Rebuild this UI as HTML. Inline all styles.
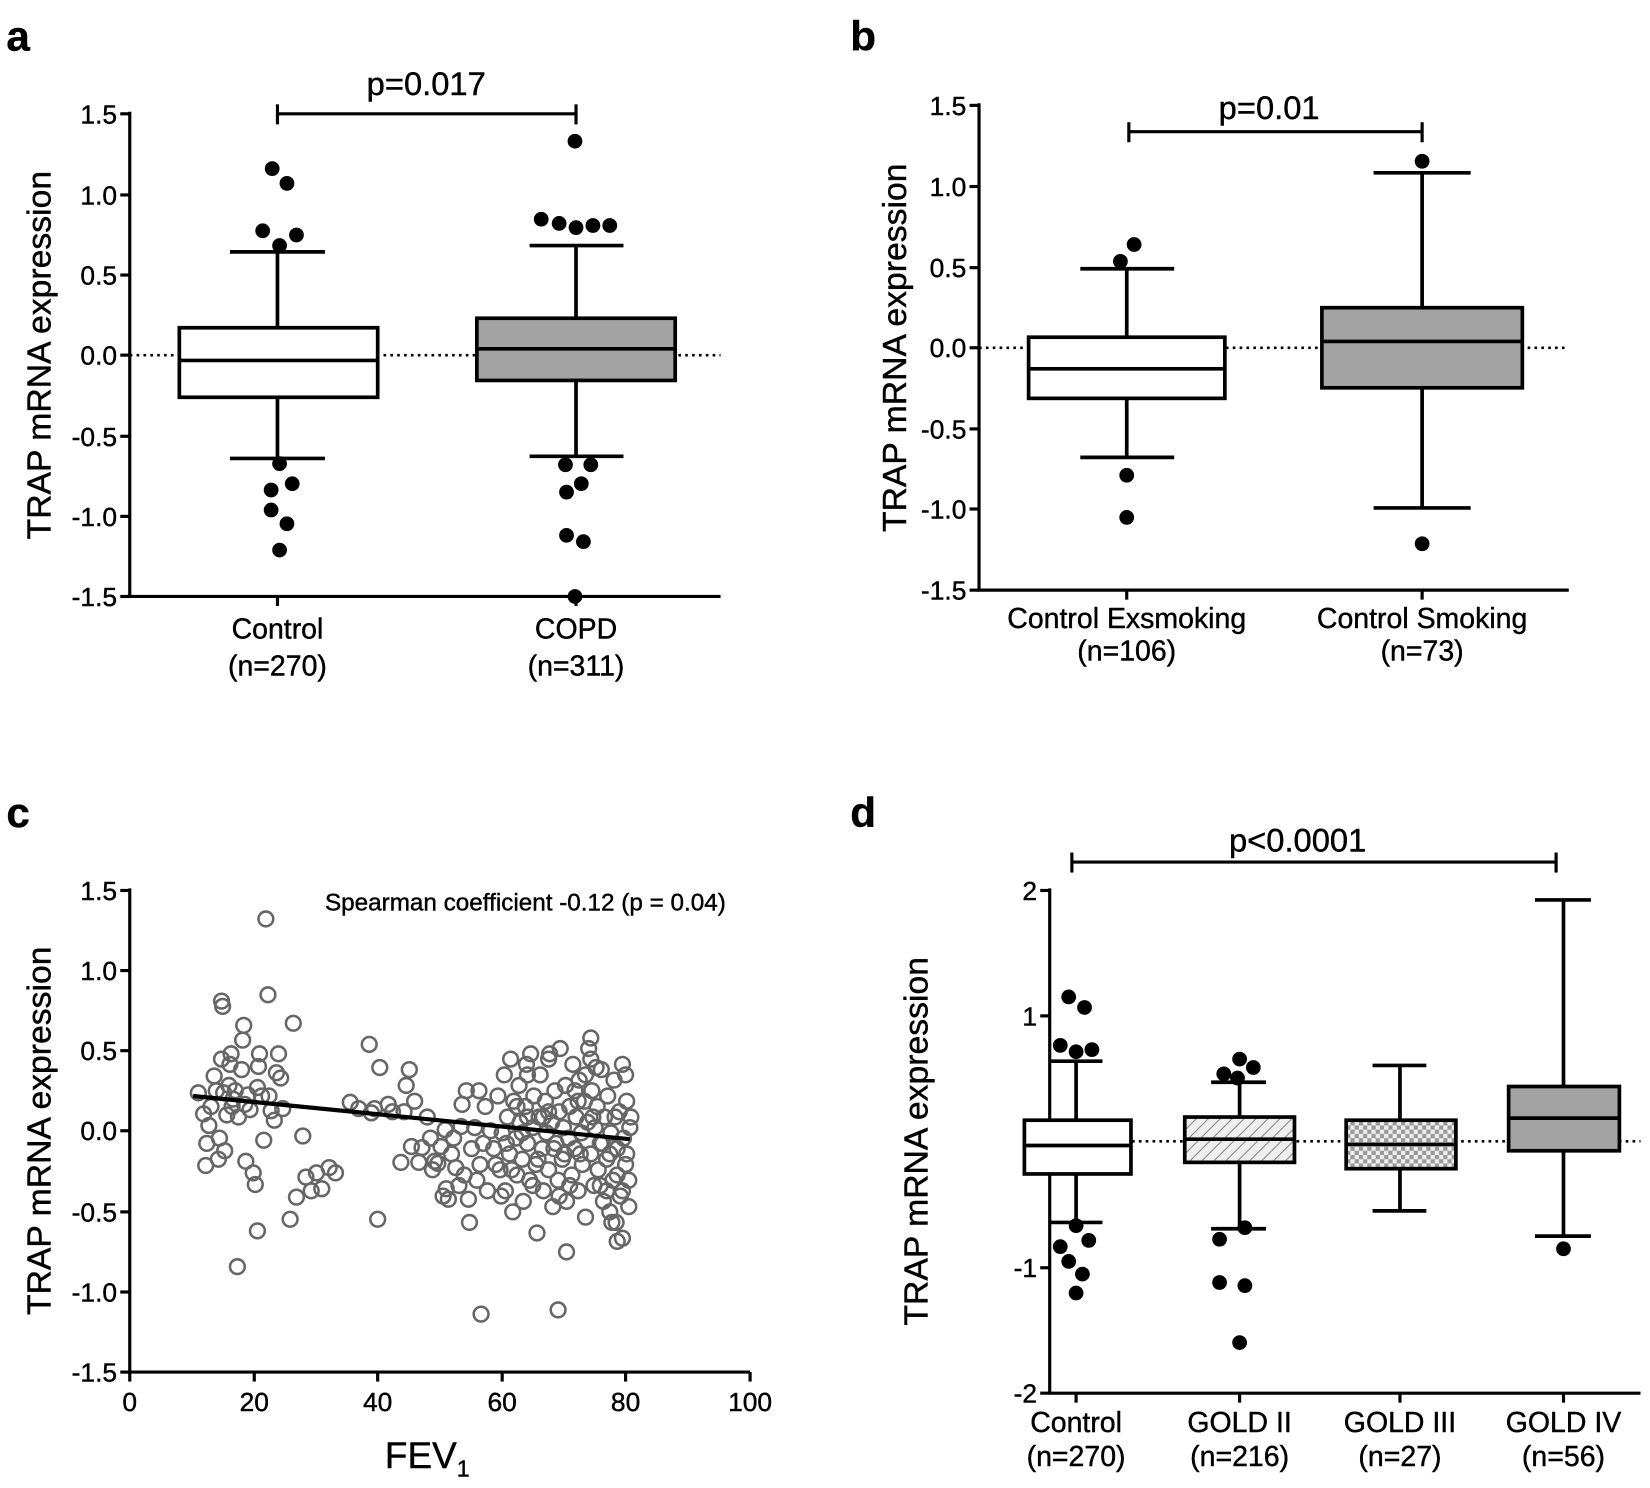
<!DOCTYPE html>
<html><head><meta charset="utf-8"><style>
html,body{margin:0;padding:0;background:#fff;}
svg{display:block;}
text{font-family:"Liberation Sans",Arial,sans-serif;fill:#000;stroke:#000;stroke-width:0.4;}
.tk{font-size:25px;text-anchor:end;}
.cat{font-size:27px;text-anchor:middle;}
.yl{font-size:32px;text-anchor:middle;}
.pl{font-size:40px;font-weight:bold;}
.ax{stroke:#000;stroke-width:3;fill:none;}
.bx{stroke:#000;stroke-width:3.5;}
.dot{stroke:#000;stroke-width:2.5;stroke-dasharray:2.5 4;}
.sc circle{fill:none;stroke:#666;stroke-width:2.4;}
</style></head><body>
<svg width="1650" height="1488" viewBox="0 0 1564 1412" preserveAspectRatio="none" xmlns="http://www.w3.org/2000/svg">
<defs>
<pattern id="hatch" width="8" height="8" patternUnits="userSpaceOnUse" patternTransform="rotate(45)">
<rect width="8" height="8" fill="#eee"/><line x1="0" y1="0" x2="0" y2="8" stroke="#888" stroke-width="2"/></pattern>
<pattern id="check" width="8" height="8" patternUnits="userSpaceOnUse">
<rect width="8" height="8" fill="#eee"/><rect width="4" height="4" fill="#999"/><rect x="4" y="4" width="4" height="4" fill="#999"/></pattern>
</defs>

<!-- Panel a -->
<text class="pl" x="6" y="48">a</text>
<text class="yl" transform="translate(48,337) rotate(-90)">TRAP mRNA expression</text>
<g class="ax">
<line x1="123" y1="106" x2="123" y2="567"/><line x1="121" y1="566" x2="683" y2="566"/>
<line x1="114" y1="108" x2="123" y2="108"/><line x1="114" y1="185" x2="123" y2="185"/><line x1="114" y1="261" x2="123" y2="261"/><line x1="114" y1="337" x2="123" y2="337"/><line x1="114" y1="414" x2="123" y2="414"/><line x1="114" y1="490" x2="123" y2="490"/><line x1="114" y1="566" x2="123" y2="566"/>
<line x1="263" y1="566" x2="263" y2="575"/><line x1="546" y1="566" x2="546" y2="575"/>
<line x1="263" y1="108" x2="546" y2="108"/><line x1="263" y1="99" x2="263" y2="118"/><line x1="546" y1="99" x2="546" y2="118"/>
</g>
<g class="tk"><text x="111" y="117">1.5</text><text x="111" y="194">1.0</text><text x="111" y="270">0.5</text><text x="111" y="346">0.0</text><text x="111" y="423">-0.5</text><text x="111" y="499">-1.0</text><text x="111" y="575">-1.5</text></g>
<text x="404" y="90" style="font-size:31px;text-anchor:middle">p=0.017</text>
<line class="dot" x1="123" y1="337" x2="683" y2="337"/>
<g class="bx">
<line x1="263" y1="239" x2="263" y2="435"/><line x1="218" y1="239" x2="308" y2="239"/><line x1="218" y1="435" x2="308" y2="435"/>
<rect x="170" y="311" width="188" height="66" fill="#fff"/><line x1="170" y1="342" x2="358" y2="342"/>
<line x1="546" y1="233" x2="546" y2="433"/><line x1="502" y1="233" x2="591" y2="233"/><line x1="502" y1="433" x2="591" y2="433"/>
<rect x="452" y="302" width="188" height="59" fill="#a3a3a3"/><line x1="452" y1="331" x2="640" y2="331"/>
</g>
<g fill="#000">
<circle cx="258" cy="160" r="7"/><circle cx="272" cy="174" r="7"/><circle cx="249" cy="219" r="7"/><circle cx="281" cy="223" r="7"/><circle cx="265" cy="233" r="7"/>
<circle cx="265" cy="440" r="7"/><circle cx="277" cy="459" r="7"/><circle cx="257" cy="465" r="7"/><circle cx="257" cy="484" r="7"/><circle cx="272" cy="497" r="7"/><circle cx="265" cy="522" r="7"/>
<circle cx="545" cy="134" r="7"/><circle cx="513" cy="208" r="7"/><circle cx="530" cy="212" r="7"/><circle cx="546" cy="216" r="7"/><circle cx="562" cy="214" r="7"/><circle cx="578" cy="214" r="7"/>
<circle cx="536" cy="441" r="7"/><circle cx="560" cy="441" r="7"/><circle cx="551" cy="459" r="7"/><circle cx="537" cy="467" r="7"/><circle cx="537" cy="508" r="7"/><circle cx="553" cy="514" r="7"/><circle cx="545" cy="566" r="7"/>
</g>
<text class="cat" x="263" y="606">Control</text><text class="cat" x="263" y="641">(n=270)</text>
<text class="cat" x="546" y="606">COPD</text><text class="cat" x="546" y="641">(n=311)</text>

<!-- Panel b -->
<text class="pl" x="806" y="48">b</text>
<text class="yl" transform="translate(859,330) rotate(-90)">TRAP mRNA expression</text>
<g class="ax">
<line x1="928" y1="98" x2="928" y2="561"/><line x1="926" y1="560" x2="1487" y2="560"/>
<line x1="919" y1="100" x2="928" y2="100"/><line x1="919" y1="177" x2="928" y2="177"/><line x1="919" y1="254" x2="928" y2="254"/><line x1="919" y1="330" x2="928" y2="330"/><line x1="919" y1="407" x2="928" y2="407"/><line x1="919" y1="483" x2="928" y2="483"/><line x1="919" y1="560" x2="928" y2="560"/>
<line x1="1068" y1="560" x2="1068" y2="569"/><line x1="1348" y1="560" x2="1348" y2="569"/>
<line x1="1070" y1="125" x2="1348" y2="125"/><line x1="1070" y1="116" x2="1070" y2="135"/><line x1="1348" y1="116" x2="1348" y2="135"/>
</g>
<g class="tk"><text x="916" y="109">1.5</text><text x="916" y="186">1.0</text><text x="916" y="263">0.5</text><text x="916" y="339">0.0</text><text x="916" y="416">-0.5</text><text x="916" y="492">-1.0</text><text x="916" y="569">-1.5</text></g>
<text x="1203" y="113" style="font-size:31px;text-anchor:middle">p=0.01</text>
<line class="dot" x1="928" y1="330" x2="1487" y2="330"/>
<g class="bx">
<line x1="1068" y1="255" x2="1068" y2="434"/><line x1="1024" y1="255" x2="1113" y2="255"/><line x1="1024" y1="434" x2="1113" y2="434"/>
<rect x="975" y="320" width="186" height="58" fill="#fff"/><line x1="975" y1="350" x2="1161" y2="350"/>
<line x1="1348" y1="164" x2="1348" y2="482"/><line x1="1302" y1="164" x2="1394" y2="164"/><line x1="1302" y1="482" x2="1394" y2="482"/>
<rect x="1253" y="292" width="190" height="76" fill="#a3a3a3"/><line x1="1253" y1="324" x2="1443" y2="324"/>
</g>
<g fill="#000"><circle cx="1075" cy="232" r="7"/><circle cx="1062" cy="248" r="7"/><circle cx="1068" cy="451" r="7"/><circle cx="1068" cy="491" r="7"/><circle cx="1348" cy="153" r="7"/><circle cx="1348" cy="516" r="7"/></g>
<text class="cat" x="1068" y="596">Control Exsmoking</text><text class="cat" x="1068" y="627">(n=106)</text>
<text class="cat" x="1348" y="596">Control Smoking</text><text class="cat" x="1348" y="627">(n=73)</text>

<!-- Panel c -->
<text class="pl" x="6" y="785">c</text>
<text class="yl" transform="translate(48,1073) rotate(-90)">TRAP mRNA expression</text>
<g class="ax">
<line x1="123" y1="843" x2="123" y2="1303"/><line x1="121" y1="1302" x2="711" y2="1302"/>
<line x1="114" y1="845" x2="123" y2="845"/><line x1="114" y1="921" x2="123" y2="921"/><line x1="114" y1="997" x2="123" y2="997"/><line x1="114" y1="1073" x2="123" y2="1073"/><line x1="114" y1="1150" x2="123" y2="1150"/><line x1="114" y1="1226" x2="123" y2="1226"/><line x1="114" y1="1302" x2="123" y2="1302"/>
<line x1="123" y1="1302" x2="123" y2="1311"/><line x1="241" y1="1302" x2="241" y2="1311"/><line x1="358" y1="1302" x2="358" y2="1311"/><line x1="476" y1="1302" x2="476" y2="1311"/><line x1="593" y1="1302" x2="593" y2="1311"/><line x1="711" y1="1302" x2="711" y2="1311"/>
</g>
<g class="tk"><text x="111" y="854">1.5</text><text x="111" y="930">1.0</text><text x="111" y="1006">0.5</text><text x="111" y="1082">0.0</text><text x="111" y="1159">-0.5</text><text x="111" y="1235">-1.0</text><text x="111" y="1311">-1.5</text></g>
<g style="font-size:25px;text-anchor:middle"><text x="123" y="1339">0</text><text x="241" y="1339">20</text><text x="358" y="1339">40</text><text x="476" y="1339">60</text><text x="593" y="1339">80</text><text x="711" y="1339">100</text></g>
<text x="405" y="1393" style="font-size:35px;text-anchor:middle">FEV<tspan dy="8" style="font-size:22px">1</tspan></text>
<text x="498" y="864" style="font-size:23px;text-anchor:middle">Spearman coefficient -0.12 (p = 0.04)</text>
<g class="sc">
<circle cx="188" cy="1037" r="7"/><circle cx="193" cy="1057" r="7"/><circle cx="195" cy="1106" r="7"/><circle cx="196" cy="1085" r="7"/><circle cx="198" cy="1068" r="7"/><circle cx="200" cy="1050" r="7"/><circle cx="203" cy="1021" r="7"/><circle cx="205" cy="1035" r="7"/><circle cx="207" cy="1100" r="7"/><circle cx="208" cy="1080" r="7"/><circle cx="210" cy="1005" r="7"/><circle cx="210" cy="950" r="7"/><circle cx="211" cy="955" r="7"/><circle cx="212" cy="1037" r="7"/><circle cx="213" cy="1092" r="7"/><circle cx="215" cy="1058" r="7"/><circle cx="217" cy="1030" r="7"/><circle cx="218" cy="1010" r="7"/><circle cx="219" cy="1000" r="7"/><circle cx="220" cy="1050" r="7"/><circle cx="221" cy="1043" r="7"/><circle cx="223" cy="1035" r="7"/><circle cx="225" cy="1202" r="7"/><circle cx="226" cy="1060" r="7"/><circle cx="229" cy="1015" r="7"/><circle cx="230" cy="987" r="7"/><circle cx="231" cy="973" r="7"/><circle cx="232" cy="1048" r="7"/><circle cx="233" cy="1102" r="7"/><circle cx="235" cy="1039" r="7"/><circle cx="237" cy="1053" r="7"/><circle cx="240" cy="1113" r="7"/><circle cx="242" cy="1124" r="7"/><circle cx="244" cy="1168" r="7"/><circle cx="244" cy="1032" r="7"/><circle cx="245" cy="1012" r="7"/><circle cx="246" cy="1000" r="7"/><circle cx="248" cy="1040" r="7"/><circle cx="250" cy="1082" r="7"/><circle cx="252" cy="872" r="7"/><circle cx="254" cy="944" r="7"/><circle cx="255" cy="1040" r="7"/><circle cx="257" cy="1054" r="7"/><circle cx="260" cy="1063" r="7"/><circle cx="262" cy="1018" r="7"/><circle cx="264" cy="1000" r="7"/><circle cx="266" cy="1023" r="7"/><circle cx="268" cy="1052" r="7"/><circle cx="275" cy="1157" r="7"/><circle cx="278" cy="971" r="7"/><circle cx="281" cy="1136" r="7"/><circle cx="287" cy="1078" r="7"/><circle cx="290" cy="1117" r="7"/><circle cx="295" cy="1130" r="7"/><circle cx="300" cy="1113" r="7"/><circle cx="305" cy="1128" r="7"/><circle cx="312" cy="1108" r="7"/><circle cx="318" cy="1113" r="7"/>
<circle cx="332" cy="1046" r="7"/><circle cx="340" cy="1052" r="7"/><circle cx="352" cy="1056" r="7"/><circle cx="355" cy="1052" r="7"/><circle cx="358" cy="1157" r="7"/><circle cx="350" cy="991" r="7"/><circle cx="360" cy="1013" r="7"/><circle cx="368" cy="1048" r="7"/><circle cx="372" cy="1055" r="7"/><circle cx="380" cy="1103" r="7"/><circle cx="383" cy="1055" r="7"/><circle cx="385" cy="1030" r="7"/><circle cx="388" cy="1015" r="7"/><circle cx="390" cy="1088" r="7"/><circle cx="393" cy="1045" r="7"/><circle cx="397" cy="1103" r="7"/><circle cx="400" cy="1089" r="7"/><circle cx="405" cy="1060" r="7"/><circle cx="408" cy="1080" r="7"/><circle cx="410" cy="1110" r="7"/><circle cx="412" cy="1102" r="7"/><circle cx="415" cy="1104" r="7"/><circle cx="418" cy="1088" r="7"/><circle cx="420" cy="1135" r="7"/><circle cx="422" cy="1072" r="7"/><circle cx="423" cy="1128" r="7"/><circle cx="425" cy="1138" r="7"/><circle cx="428" cy="1095" r="7"/><circle cx="430" cy="1080" r="7"/><circle cx="432" cy="1108" r="7"/><circle cx="435" cy="1125" r="7"/><circle cx="437" cy="1069" r="7"/><circle cx="438" cy="1048" r="7"/><circle cx="440" cy="1115" r="7"/><circle cx="442" cy="1035" r="7"/><circle cx="444" cy="1138" r="7"/><circle cx="445" cy="1160" r="7"/><circle cx="447" cy="1090" r="7"/><circle cx="450" cy="1070" r="7"/><circle cx="452" cy="1120" r="7"/><circle cx="454" cy="1035" r="7"/><circle cx="455" cy="1105" r="7"/><circle cx="456" cy="1247" r="7"/><circle cx="458" cy="1085" r="7"/><circle cx="460" cy="1050" r="7"/><circle cx="462" cy="1130" r="7"/><circle cx="465" cy="1073" r="7"/><circle cx="468" cy="1090" r="7"/><circle cx="470" cy="1105" r="7"/>
<circle cx="472" cy="1040" r="7"/><circle cx="474" cy="1110" r="7"/><circle cx="476" cy="1075" r="7"/><circle cx="478" cy="1020" r="7"/><circle cx="479" cy="1130" r="7"/><circle cx="481" cy="1060" r="7"/><circle cx="483" cy="1095" r="7"/><circle cx="484" cy="1005" r="7"/><circle cx="486" cy="1150" r="7"/><circle cx="487" cy="1045" r="7"/><circle cx="489" cy="1080" r="7"/><circle cx="490" cy="1115" r="7"/><circle cx="492" cy="1030" r="7"/><circle cx="493" cy="1065" r="7"/><circle cx="495" cy="1100" r="7"/><circle cx="496" cy="1140" r="7"/><circle cx="498" cy="1050" r="7"/><circle cx="499" cy="1010" r="7"/><circle cx="500" cy="1085" r="7"/><circle cx="502" cy="1120" r="7"/><circle cx="503" cy="1000" r="7"/><circle cx="505" cy="1070" r="7"/><circle cx="506" cy="1040" r="7"/><circle cx="508" cy="1105" r="7"/><circle cx="509" cy="1170" r="7"/><circle cx="511" cy="1060" r="7"/><circle cx="512" cy="1020" r="7"/><circle cx="514" cy="1090" r="7"/><circle cx="515" cy="1130" r="7"/><circle cx="517" cy="1045" r="7"/><circle cx="518" cy="1075" r="7"/><circle cx="520" cy="1110" r="7"/><circle cx="521" cy="1000" r="7"/><circle cx="523" cy="1065" r="7"/><circle cx="524" cy="1145" r="7"/><circle cx="526" cy="1035" r="7"/><circle cx="527" cy="1085" r="7"/><circle cx="529" cy="1120" r="7"/><circle cx="530" cy="1055" r="7"/><circle cx="531" cy="995" r="7"/><circle cx="533" cy="1100" r="7"/><circle cx="534" cy="1070" r="7"/><circle cx="536" cy="1030" r="7"/><circle cx="537" cy="1140" r="7"/><circle cx="539" cy="1080" r="7"/><circle cx="540" cy="1050" r="7"/><circle cx="542" cy="1115" r="7"/><circle cx="543" cy="1010" r="7"/><circle cx="545" cy="1090" r="7"/><circle cx="546" cy="1060" r="7"/><circle cx="548" cy="1130" r="7"/><circle cx="549" cy="1025" r="7"/><circle cx="551" cy="1075" r="7"/><circle cx="552" cy="1105" r="7"/><circle cx="554" cy="1045" r="7"/><circle cx="555" cy="1155" r="7"/><circle cx="557" cy="1065" r="7"/><circle cx="558" cy="995" r="7"/><circle cx="560" cy="1095" r="7"/><circle cx="561" cy="1035" r="7"/><circle cx="563" cy="1125" r="7"/><circle cx="564" cy="1070" r="7"/><circle cx="566" cy="1050" r="7"/><circle cx="567" cy="1110" r="7"/><circle cx="569" cy="1085" r="7"/><circle cx="570" cy="1015" r="7"/><circle cx="572" cy="1140" r="7"/><circle cx="573" cy="1060" r="7"/><circle cx="575" cy="1100" r="7"/><circle cx="576" cy="1040" r="7"/><circle cx="578" cy="1150" r="7"/><circle cx="579" cy="1075" r="7"/><circle cx="581" cy="1120" r="7"/><circle cx="582" cy="1025" r="7"/><circle cx="584" cy="1160" r="7"/><circle cx="585" cy="1090" r="7"/><circle cx="587" cy="1055" r="7"/><circle cx="588" cy="1135" r="7"/><circle cx="590" cy="1010" r="7"/><circle cx="591" cy="1080" r="7"/><circle cx="593" cy="1105" r="7"/><circle cx="594" cy="1045" r="7"/><circle cx="596" cy="1145" r="7"/><circle cx="597" cy="1070" r="7"/><circle cx="596" cy="1120" r="7"/><circle cx="593" cy="1020" r="7"/><circle cx="590" cy="1130" r="7"/><circle cx="585" cy="1115" r="7"/><circle cx="580" cy="1160" r="7"/><circle cx="575" cy="1130" r="7"/><circle cx="571" cy="1085" r="7"/><circle cx="565" cy="1013" r="7"/><circle cx="560" cy="1005" r="7"/><circle cx="555" cy="1020" r="7"/><circle cx="550" cy="1095" r="7"/><circle cx="545" cy="1035" r="7"/><circle cx="540" cy="1125" r="7"/><circle cx="535" cy="1095" r="7"/><circle cx="530" cy="1135" r="7"/><circle cx="525" cy="1090" r="7"/><circle cx="520" cy="1055" r="7"/><circle cx="515" cy="1060" r="7"/><circle cx="510" cy="1100" r="7"/><circle cx="505" cy="1125" r="7"/><circle cx="500" cy="1060" r="7"/><circle cx="495" cy="1075" r="7"/><circle cx="490" cy="1050" r="7"/><circle cx="485" cy="1110" r="7"/><circle cx="480" cy="1085" r="7"/><circle cx="475" cy="1135" r="7"/><circle cx="520" cy="1005" r="7"/><circle cx="537" cy="1188" r="7"/><circle cx="529" cy="1243" r="7"/><circle cx="569" cy="1125" r="7"/><circle cx="590" cy="1175" r="7"/><circle cx="585" cy="1178" r="7"/><circle cx="562" cy="1060" r="7"/><circle cx="548" cy="1045" r="7"/><circle cx="578" cy="1095" r="7"/><circle cx="583" cy="1060" r="7"/><circle cx="594" cy="1095" r="7"/><circle cx="598" cy="1060" r="7"/><circle cx="560" cy="985" r="7"/><circle cx="500" cy="1020" r="7"/>
</g>
<line x1="183" y1="1040" x2="597" y2="1081" stroke="#000" stroke-width="4"/>

<!-- Panel d -->
<text class="pl" x="806" y="785">d</text>
<text class="yl" transform="translate(879,1083) rotate(-90)">TRAP mRNA expression</text>
<g class="ax">
<line x1="995" y1="843" x2="995" y2="1323"/><line x1="993" y1="1322" x2="1555" y2="1322"/>
<line x1="986" y1="845" x2="995" y2="845"/><line x1="986" y1="964" x2="995" y2="964"/><line x1="986" y1="1083" x2="995" y2="1083"/><line x1="986" y1="1203" x2="995" y2="1203"/><line x1="986" y1="1322" x2="995" y2="1322"/>
<line x1="1020" y1="1322" x2="1020" y2="1331"/><line x1="1175" y1="1322" x2="1175" y2="1331"/><line x1="1327" y1="1322" x2="1327" y2="1331"/><line x1="1482" y1="1322" x2="1482" y2="1331"/>
<line x1="1016" y1="818" x2="1475" y2="818"/><line x1="1016" y1="809" x2="1016" y2="828"/><line x1="1475" y1="809" x2="1475" y2="828"/>
</g>
<g class="tk"><text x="983" y="854">2</text><text x="983" y="973">1</text><text x="983" y="1092">0</text><text x="983" y="1212">-1</text><text x="983" y="1331">-2</text></g>
<text x="1230" y="808" style="font-size:31px;text-anchor:middle">p&lt;0.0001</text>
<line class="dot" x1="995" y1="1083" x2="1555" y2="1083"/>
<g class="bx">
<line x1="1020" y1="1007" x2="1020" y2="1160"/><line x1="995" y1="1007" x2="1045" y2="1007"/><line x1="995" y1="1160" x2="1045" y2="1160"/>
<rect x="971" y="1063" width="101" height="51" fill="#fff"/><line x1="971" y1="1087" x2="1072" y2="1087"/>
<line x1="1175" y1="1027" x2="1175" y2="1166"/><line x1="1148" y1="1027" x2="1200" y2="1027"/><line x1="1148" y1="1166" x2="1200" y2="1166"/>
<rect x="1123" y="1060" width="104" height="43" fill="url(#hatch)"/><line x1="1123" y1="1081" x2="1227" y2="1081"/>
<line x1="1327" y1="1011" x2="1327" y2="1149"/><line x1="1301" y1="1011" x2="1352" y2="1011"/><line x1="1301" y1="1149" x2="1352" y2="1149"/>
<rect x="1276" y="1063" width="104" height="46" fill="url(#check)"/><line x1="1276" y1="1086" x2="1380" y2="1086"/>
<line x1="1482" y1="854" x2="1482" y2="1173"/><line x1="1455" y1="854" x2="1508" y2="854"/><line x1="1455" y1="1173" x2="1508" y2="1173"/>
<rect x="1430" y="1031" width="105" height="61" fill="#a3a3a3"/><line x1="1430" y1="1061" x2="1535" y2="1061"/>
</g>
<g fill="#000">
<circle cx="1013" cy="946" r="7"/><circle cx="1028" cy="956" r="7"/><circle cx="1005" cy="992" r="7"/><circle cx="1035" cy="996" r="7"/><circle cx="1020" cy="998" r="7"/>
<circle cx="1020" cy="1163" r="7"/><circle cx="1032" cy="1177" r="7"/><circle cx="1005" cy="1183" r="7"/><circle cx="1013" cy="1197" r="7"/><circle cx="1026" cy="1209" r="7"/><circle cx="1020" cy="1227" r="7"/>
<circle cx="1175" cy="1005" r="7"/><circle cx="1188" cy="1013" r="7"/><circle cx="1160" cy="1019" r="7"/><circle cx="1173" cy="1023" r="7"/>
<circle cx="1180" cy="1165" r="7"/><circle cx="1156" cy="1176" r="7"/><circle cx="1156" cy="1217" r="7"/><circle cx="1180" cy="1220" r="7"/><circle cx="1175" cy="1274" r="7"/>
<circle cx="1482" cy="1185" r="7"/>
</g>
<text class="cat" x="1020" y="1359">Control</text><text class="cat" x="1020" y="1391">(n=270)</text>
<text class="cat" x="1175" y="1359">GOLD II</text><text class="cat" x="1175" y="1391">(n=216)</text>
<text class="cat" x="1327" y="1359">GOLD III</text><text class="cat" x="1327" y="1391">(n=27)</text>
<text class="cat" x="1482" y="1359">GOLD IV</text><text class="cat" x="1482" y="1391">(n=56)</text>
</svg>
</body></html>
